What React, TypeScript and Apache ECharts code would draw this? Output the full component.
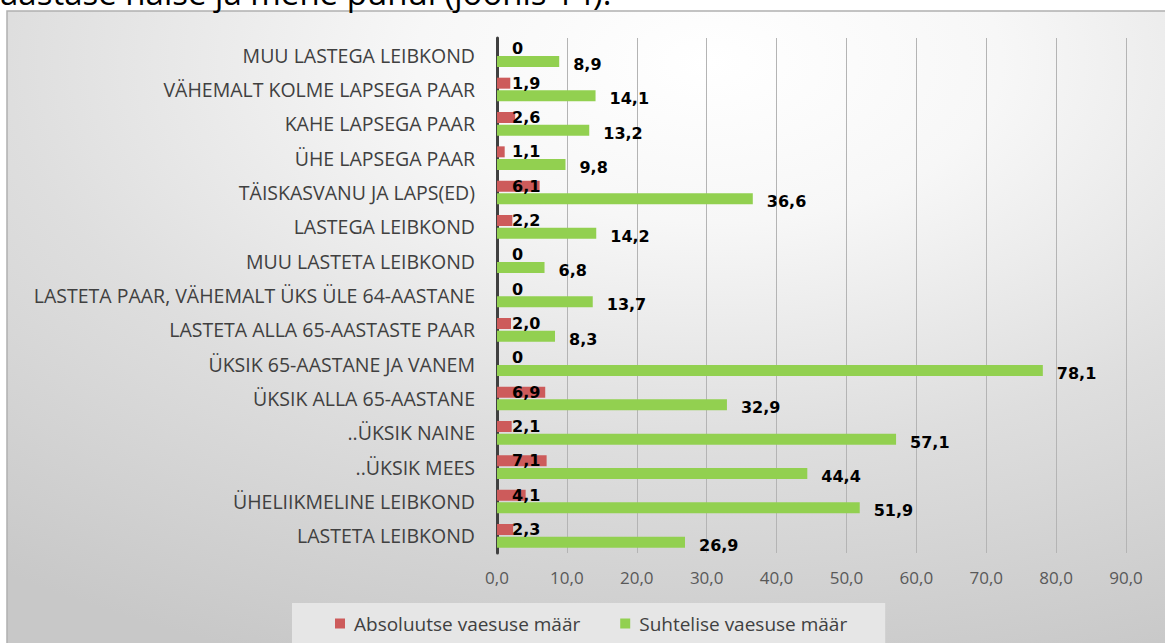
import React, { useEffect, useRef } from "react";
import * as echarts from "echarts";

const categories = [
  "MUU LASTEGA LEIBKOND",
  "VÄHEMALT KOLME LAPSEGA PAAR",
  "KAHE LAPSEGA PAAR",
  "ÜHE LAPSEGA PAAR",
  "TÄISKASVANU JA LAPS(ED)",
  "LASTEGA LEIBKOND",
  "MUU LASTETA LEIBKOND",
  "LASTETA PAAR, VÄHEMALT ÜKS ÜLE 64-AASTANE",
  "LASTETA ALLA 65-AASTASTE PAAR",
  "ÜKSIK 65-AASTANE JA VANEM",
  "ÜKSIK ALLA 65-AASTANE",
  "..ÜKSIK NAINE",
  "..ÜKSIK MEES",
  "ÜHELIIKMELINE LEIBKOND",
  "LASTETA LEIBKOND",
];

const absoluteRate = [0, 1.9, 2.6, 1.1, 6.1, 2.2, 0, 0, 2.0, 0, 6.9, 2.1, 7.1, 4.1, 2.3];
const relativeRate = [8.9, 14.1, 13.2, 9.8, 36.6, 14.2, 6.8, 13.7, 8.3, 78.1, 32.9, 57.1, 44.4, 51.9, 26.9];

const seriesNames = ["Absoluutse vaesuse määr", "Suhtelise vaesuse määr"];
const xTicks = { min: 0, max: 90, interval: 10 };
const headerText = "aastase naise ja mehe puhul (joonis 14).";

const fmt = (v: number) => (v === 0 ? "0" : v.toFixed(1).replace(".", ","));

export default function App() {
  const ref = useRef<HTMLDivElement>(null);

  useEffect(() => {
    if (!ref.current) return;
    const chart = echarts.init(ref.current, undefined, { renderer: "svg" });
    const labelFont = {
      fontFamily: "DejaVu Sans",
      fontWeight: "bold" as const,
      fontSize: 16,
      color: "#000000",
    };
    chart.setOption({
      animation: false,
      backgroundColor: "#ffffff",
      graphic: [
        {
          type: "rect",
          z: -10,
          silent: true,
          shape: { x: 7, y: 11, width: 1170, height: 640 },
          style: {
            fill: {
              type: "radial",
              x: 0.6,
              y: 0.08,
              r: 1.0,
              colorStops: [
                { offset: 0, color: "#ffffff" },
                { offset: 0.25, color: "#f7f7f7" },
                { offset: 0.6, color: "#dedede" },
                { offset: 1, color: "#c8c8c8" },
              ],
            },
            stroke: "#b0b0b0",
            lineWidth: 1.5,
          },
        },
        {
          type: "text",
          x: 0,
          y: 9,
          silent: true,
          style: {
            text: headerText,
            fontFamily: "Open Sans",
            fontSize: 33,
            fill: "#000000",
            verticalAlign: "bottom",
          },
        },
      ],
      grid: { left: 497, right: 39, top: 38, bottom: 90, containLabel: false },
      legend: {
        left: 292,
        top: 603,
        padding: [11, 38, 11, 43],
        backgroundColor: "#e6e6e6",
        itemWidth: 10,
        itemHeight: 10,
        itemGap: 40,
        icon: "rect",
        textStyle: { fontFamily: "Open Sans", fontSize: 19, color: "#404040", padding: [0, 0, 0, 4] },
        data: seriesNames,
      },
      xAxis: {
        type: "value",
        min: xTicks.min,
        max: xTicks.max,
        interval: xTicks.interval,
        axisLine: { show: false },
        axisTick: { show: false },
        axisLabel: {
          formatter: (v: number) => v.toFixed(1).replace(".", ","),
          fontFamily: "Open Sans",
          fontSize: 17,
          color: "#595959",
          margin: 16,
        },
        splitLine: { lineStyle: { color: "#b4b4b4", width: 1 } },
      },
      yAxis: {
        type: "category",
        inverse: true,
        data: categories,
        axisTick: { show: false },
        axisLine: { show: true, lineStyle: { color: "#404040", width: 3 } },
        axisLabel: {
          fontFamily: "Open Sans",
          fontSize: 19.5,
          color: "#404040",
          margin: 22,
        },
      },
      series: [
        {
          name: seriesNames[0],
          type: "bar",
          data: absoluteRate,
          barWidth: 11,
          barGap: "15%",
          itemStyle: { color: "#cd5b5b" },
          label: {
            show: true,
            position: "insideLeft",
            distance: 15,
            formatter: (p: any) => fmt(p.value),
            ...labelFont,
          },
        },
        {
          name: seriesNames[1],
          type: "bar",
          data: relativeRate,
          barWidth: 11,
          barGap: "15%",
          itemStyle: { color: "#92d050" },
          label: {
            show: true,
            position: "right",
            distance: 14,
            offset: [0, 3],
            formatter: (p: any) => fmt(p.value),
            ...labelFont,
          },
        },
      ],
    });
    return () => chart.dispose();
  }, []);

  return (
    <div
      ref={ref}
      style={{ position: "fixed", left: 0, top: 0, width: 1165, height: 643 }}
    />
  );
}
